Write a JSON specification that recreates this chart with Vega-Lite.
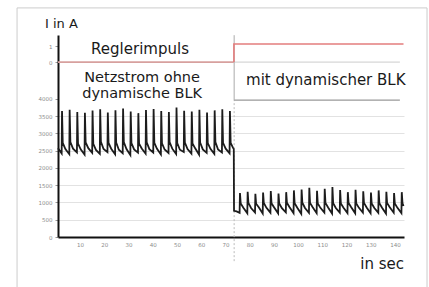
{
  "$schema": "https://vega.github.io/schema/vega-lite/v6.json",
  "width": 346,
  "height": 202,
  "autosize": "none",
  "padding": {"left": 58, "top": 35, "right": 25, "bottom": 50},
  "background": "white",
  "config": {"view": {"stroke": null}, "font": "DejaVu Sans"},
  "datasets": {
    "wave": [
      {"t":0.9,"v":5.15},
      {"t":2.41,"v":4.85},{"t":2.56,"v":7.30},{"t":2.86,"v":5.45},{"t":3.96,"v":5.10},
      {"t":5.56,"v":4.80},{"t":5.71,"v":7.38},{"t":6.01,"v":5.50},{"t":7.11,"v":5.12},
      {"t":8.71,"v":4.90},{"t":8.86,"v":7.25},{"t":9.16,"v":5.42},{"t":10.26,"v":5.08},
      {"t":11.86,"v":4.78},{"t":12.01,"v":7.20},{"t":12.31,"v":5.48},{"t":13.41,"v":5.15},
      {"t":15.01,"v":4.88},{"t":15.16,"v":7.33},{"t":15.46,"v":5.40},{"t":16.56,"v":5.05},
      {"t":18.16,"v":4.82},{"t":18.31,"v":7.40},{"t":18.61,"v":5.52},{"t":19.71,"v":5.10},
      {"t":21.31,"v":4.92},{"t":21.46,"v":7.22},{"t":21.76,"v":5.45},{"t":22.86,"v":5.12},
      {"t":24.46,"v":4.80},{"t":24.61,"v":7.35},{"t":24.91,"v":5.47},{"t":26.01,"v":5.06},
      {"t":27.61,"v":4.86},{"t":27.76,"v":7.45},{"t":28.06,"v":5.50},{"t":29.16,"v":5.10},
      {"t":30.76,"v":4.75},{"t":30.91,"v":7.28},{"t":31.21,"v":5.44},{"t":32.31,"v":5.08},
      {"t":33.91,"v":4.89},{"t":34.06,"v":7.18},{"t":34.36,"v":5.41},{"t":35.46,"v":5.13},
      {"t":37.06,"v":4.83},{"t":37.21,"v":7.36},{"t":37.51,"v":5.49},{"t":38.61,"v":5.09},
      {"t":40.21,"v":4.90},{"t":40.36,"v":7.42},{"t":40.66,"v":5.46},{"t":41.76,"v":5.11},
      {"t":43.36,"v":4.79},{"t":43.51,"v":7.30},{"t":43.81,"v":5.43},{"t":44.91,"v":5.07},
      {"t":46.51,"v":4.87},{"t":46.66,"v":7.24},{"t":46.96,"v":5.50},{"t":48.06,"v":5.12},
      {"t":49.66,"v":4.81},{"t":49.81,"v":7.50},{"t":50.11,"v":5.45},{"t":51.21,"v":5.06},
      {"t":52.81,"v":4.93},{"t":52.96,"v":7.32},{"t":53.26,"v":5.48},{"t":54.36,"v":5.10},
      {"t":55.96,"v":4.84},{"t":56.11,"v":7.27},{"t":56.41,"v":5.42},{"t":57.51,"v":5.14},
      {"t":59.11,"v":4.78},{"t":59.26,"v":7.38},{"t":59.56,"v":5.47},{"t":60.66,"v":5.08},
      {"t":62.26,"v":4.88},{"t":62.41,"v":7.21},{"t":62.71,"v":5.44},{"t":63.81,"v":5.11},
      {"t":65.41,"v":4.82},{"t":65.56,"v":7.34},{"t":65.86,"v":5.50},{"t":66.96,"v":5.07},
      {"t":68.56,"v":4.90},{"t":68.71,"v":7.40},{"t":69.01,"v":5.46},{"t":70.11,"v":5.12},
      {"t":71.71,"v":4.85},{"t":71.86,"v":7.30},{"t":72.16,"v":5.45},{"t":73.2,"v":5.15},
      {"t":73.45,"v":5.10},{"t":73.55,"v":1.52},{"t":74.6,"v":1.48},
      {"t":75.85,"v":1.40},{"t":76.00,"v":2.55},{"t":76.30,"v":1.95},{"t":77.40,"v":1.70},
      {"t":79.03,"v":1.38},{"t":79.18,"v":2.62},{"t":79.48,"v":1.98},{"t":80.58,"v":1.68},
      {"t":82.21,"v":1.42},{"t":82.36,"v":2.50},{"t":82.66,"v":1.93},{"t":83.76,"v":1.72},
      {"t":85.39,"v":1.36},{"t":85.54,"v":2.58},{"t":85.84,"v":1.97},{"t":86.94,"v":1.69},
      {"t":88.57,"v":1.41},{"t":88.72,"v":2.66},{"t":89.02,"v":1.95},{"t":90.12,"v":1.71},
      {"t":91.75,"v":1.37},{"t":91.90,"v":2.52},{"t":92.20,"v":1.94},{"t":93.30,"v":1.67},
      {"t":94.93,"v":1.43},{"t":95.08,"v":2.60},{"t":95.38,"v":1.98},{"t":96.48,"v":1.73},
      {"t":98.11,"v":1.39},{"t":98.26,"v":2.70},{"t":98.56,"v":1.96},{"t":99.66,"v":1.70},
      {"t":101.29,"v":1.35},{"t":101.44,"v":2.75},{"t":101.74,"v":1.99},{"t":102.84,"v":1.68},
      {"t":104.47,"v":1.40},{"t":104.62,"v":2.85},{"t":104.92,"v":1.97},{"t":106.02,"v":1.72},
      {"t":107.65,"v":1.38},{"t":107.80,"v":2.68},{"t":108.10,"v":1.95},{"t":109.20,"v":1.69},
      {"t":110.83,"v":1.42},{"t":110.98,"v":2.80},{"t":111.28,"v":1.98},{"t":112.38,"v":1.71},
      {"t":114.01,"v":1.36},{"t":114.16,"v":2.90},{"t":114.46,"v":1.96},{"t":115.56,"v":1.68},
      {"t":117.19,"v":1.41},{"t":117.34,"v":2.72},{"t":117.64,"v":1.94},{"t":118.74,"v":1.70},
      {"t":120.37,"v":1.39},{"t":120.52,"v":2.60},{"t":120.82,"v":1.97},{"t":121.92,"v":1.72},
      {"t":123.55,"v":1.37},{"t":123.70,"v":2.74},{"t":124.00,"v":1.95},{"t":125.10,"v":1.69},
      {"t":126.73,"v":1.42},{"t":126.88,"v":2.65},{"t":127.18,"v":1.98},{"t":128.28,"v":1.71},
      {"t":129.91,"v":1.38},{"t":130.06,"v":2.58},{"t":130.36,"v":1.94},{"t":131.46,"v":1.68},
      {"t":133.09,"v":1.40},{"t":133.24,"v":2.70},{"t":133.54,"v":1.96},{"t":134.64,"v":1.70},
      {"t":136.27,"v":1.36},{"t":136.42,"v":2.62},{"t":136.72,"v":1.97},{"t":137.82,"v":1.72},
      {"t":139.45,"v":1.41},{"t":139.60,"v":2.55},{"t":139.90,"v":1.95},{"t":141.00,"v":1.69},
      {"t":142.63,"v":1.39},{"t":142.78,"v":2.60},{"t":143.08,"v":1.96},{"t":143.5,"v":1.80}
    ],
    "pulse": [
      {"i":0,"t":0.9,"v":10.14,"seg":"aus"},
      {"i":1,"t":73.5,"v":10.14,"seg":"aus"},
      {"i":2,"t":73.5,"v":10.14,"seg":"ein"},
      {"i":3,"t":73.5,"v":11.19,"seg":"ein"},
      {"i":4,"t":143.5,"v":11.19,"seg":"ein"}
    ]
  },
  "encoding": {
    "x": {
      "field": "t", "type": "quantitative", "title": null,
      "scale": {"domain": [0.9, 143.7], "nice": false, "zero": false},
      "axis": {
        "values": [10,20,30,40,50,60,70,80,90,100,110,120,130,140],
        "domainColor": "#111111", "domainWidth": 2,
        "ticks": false, "labelFontSize": 5.5, "labelColor": "#8c8c8c",
        "labelPadding": 5, "grid": false, "labelFlush": false, "labelOverlap": false
      }
    },
    "y": {
      "field": "v", "type": "quantitative", "title": null,
      "scale": {"domain": [0, 11.71], "nice": false},
      "axis": {
        "values": [0,1,2,3,4,5,6,7,8,10.14,11.07],
        "labelExpr": "datum.value > 11 ? '1' : datum.value > 10 ? '0' : format(datum.value * 500, 'd')",
        "domainColor": "#111111", "domainWidth": 2,
        "tickSize": 3, "tickColor": "#999999",
        "labelFontSize": 5.5, "labelColor": "#8c8c8c", "labelPadding": 3, "labelOverlap": false,
        "grid": true, "gridColor": "#e2e2e2",
        "gridOpacity": {"condition": {"test": "datum.value > 7.5 || datum.value == 0", "value": 0}, "value": 1}
      }
    }
  },
  "layer": [
    {
      "data": {"values": [{"t":-16.0,"t2":153.2,"v":13.28,"v2":-5}]},
      "mark": {"type": "rect", "fill": "transparent", "stroke": "#cccccc", "strokeWidth": 1, "clip": false},
      "encoding": {"x2": {"field": "t2"}, "y2": {"field": "v2"}}
    },
    {
      "data": {"values": [{"t":73.6,"v":-1.4,"v2":7.94}]},
      "mark": {"type": "rule", "color": "#bbbbbb", "strokeWidth": 1, "strokeDash": [2, 2], "clip": false},
      "encoding": {"y2": {"field": "v2"}}
    },
    {
      "data": {"values": [{"t":73.6,"t2":142.0,"v":10.14}]},
      "mark": {"type": "rule", "color": "#cccccc", "strokeWidth": 1},
      "encoding": {"x2": {"field": "t2"}}
    },
    {
      "data": {"values": [{"t":73.6,"t2":142.0,"v":7.94}]},
      "mark": {"type": "rule", "color": "#999999", "strokeWidth": 1.2},
      "encoding": {"x2": {"field": "t2"}}
    },
    {
      "data": {"values": [{"t":73.6,"v":7.94,"v2":11.7}]},
      "mark": {"type": "rule", "color": "#aaaaaa", "strokeWidth": 1},
      "encoding": {"y2": {"field": "v2"}}
    },
    {
      "data": {"name": "pulse"},
      "mark": {"type": "line", "strokeWidth": 1.6, "interpolate": "linear"},
      "encoding": {
        "order": {"field": "i"},
        "color": {"field": "seg", "type": "nominal", "legend": null, "scale": {"domain": ["aus", "ein"], "range": ["#d7a09e", "#e47d7d"]}}
      }
    },
    {
      "data": {"name": "wave"},
      "mark": {"type": "line", "color": "#1c1c1c", "strokeWidth": 1.8},
      "encoding": {}
    },
    {
      "data": {"values": [{"t":34.75,"v":10.61,"label":"Reglerimpuls"}]},
      "mark": {"type": "text", "align": "center", "baseline": "alphabetic", "fontSize": 15, "color": "#1a1a1a", "font": "DejaVu Sans"},
      "encoding": {"text": {"field": "label"}}
    },
    {
      "data": {"values": [
        {"t":35.6,"v":8.96,"label":"Netzstrom ohne"},
        {"t":35.6,"v":8.06,"label":"dynamische BLK"}
      ]},
      "mark": {"type": "text", "align": "center", "baseline": "alphabetic", "fontSize": 14.5, "color": "#1a1a1a", "font": "DejaVu Sans"},
      "encoding": {"text": {"field": "label"}}
    },
    {
      "data": {"values": [{"t":78.5,"v":8.84,"label":"mit dynamischer BLK"}]},
      "mark": {"type": "text", "align": "left", "baseline": "alphabetic", "fontSize": 15, "color": "#1a1a1a", "font": "DejaVu Sans"},
      "encoding": {"text": {"field": "label"}}
    },
    {
      "data": {"values": [{"t":-4.46,"v":12.12,"label":"I in A"}]},
      "mark": {"type": "text", "align": "left", "baseline": "alphabetic", "fontSize": 13, "color": "#1a1a1a", "font": "DejaVu Sans"},
      "encoding": {"text": {"field": "label"}}
    },
    {
      "data": {"values": [{"t":143.7,"v":-1.86,"label":"in sec"}]},
      "mark": {"type": "text", "align": "right", "baseline": "alphabetic", "fontSize": 15, "color": "#1a1a1a", "font": "DejaVu Sans"},
      "encoding": {"text": {"field": "label"}}
    }
  ]
}
